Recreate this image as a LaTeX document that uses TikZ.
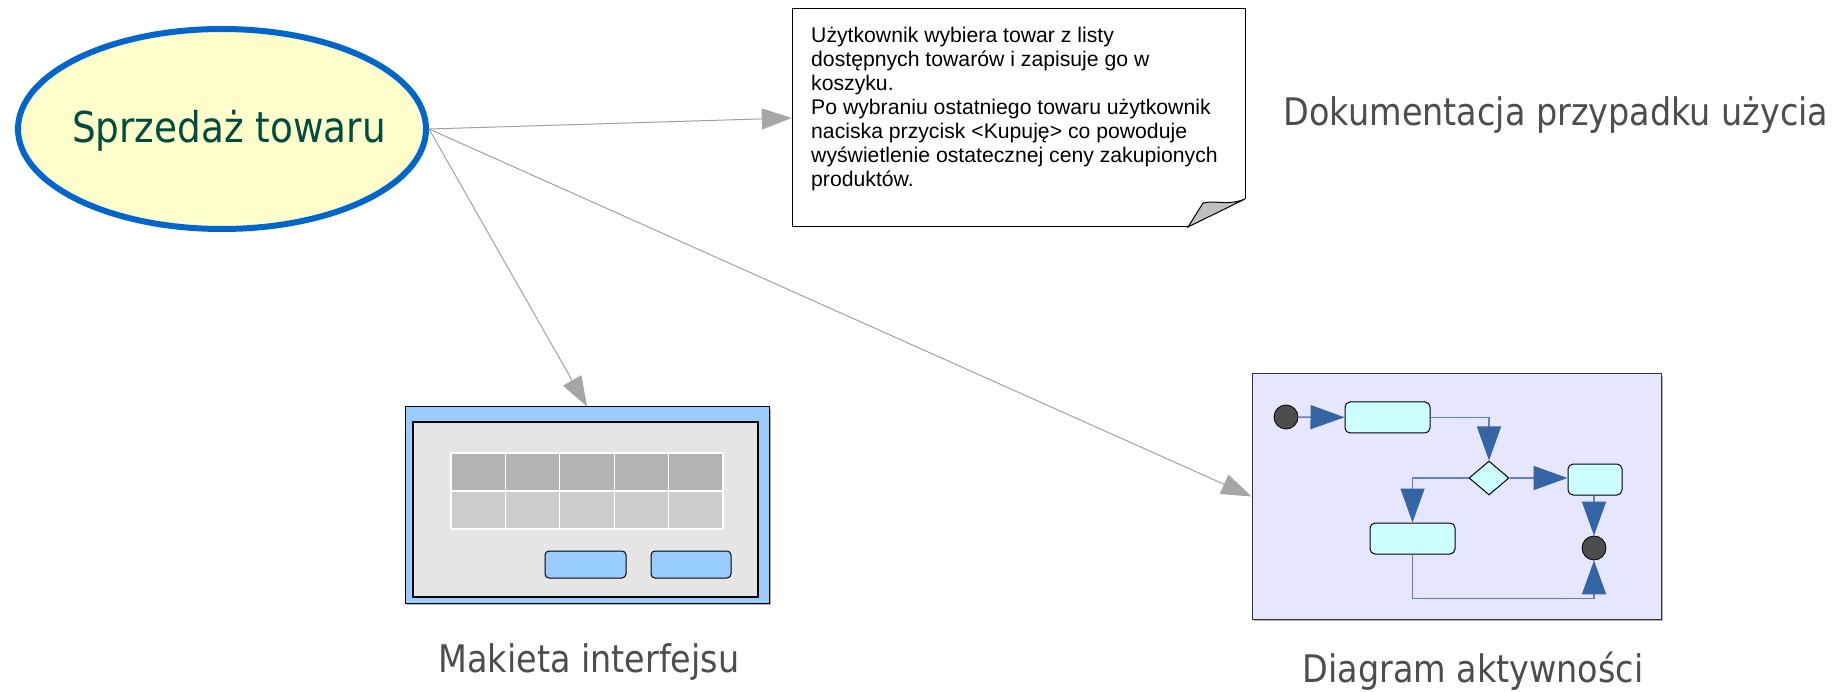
\documentclass[tikz,border=0pt]{standalone}
\usepackage{fontspec}
\setmainfont{Liberation Sans}
\newfontfamily\labelfont[FakeStretch=0.88]{DejaVu Sans}
\usetikzlibrary{shapes.geometric,arrows.meta,shadows}

\definecolor{ucfill}{RGB}{255,255,204}
\definecolor{ucline}{RGB}{0,102,204}
\definecolor{uctext}{RGB}{0,77,64}
\definecolor{labelgray}{RGB}{77,77,77}
\definecolor{linkgray}{RGB}{160,160,160}
\definecolor{tipgray}{RGB}{166,166,166}
\definecolor{winblue}{RGB}{153,204,255}
\definecolor{panelgray}{RGB}{230,230,230}
\definecolor{headgray}{RGB}{179,179,179}
\definecolor{bodygray}{RGB}{204,204,204}
\definecolor{actback}{RGB}{230,230,255}
\definecolor{actfill}{RGB}{204,255,255}
\definecolor{actblue}{RGB}{52,101,164}
\definecolor{flowline}{RGB}{95,130,190}
\definecolor{dotgray}{RGB}{77,77,77}
\definecolor{foldgray}{RGB}{192,192,192}

\begin{document}
\begin{tikzpicture}[x=1pt,y=-1pt,
    usecase/.style={ellipse, draw=ucline, line width=6pt, fill=ucfill, inner sep=0pt,
      minimum width=408pt, minimum height=200pt},
    uctitle/.style={text=uctext, inner sep=0pt, font=\labelfont\fontsize{42.5}{50}\selectfont},
    caption/.style={text=labelgray, inner sep=0pt, font=\labelfont\fontsize{38}{44}\selectfont},
    notetext/.style={align=left, inner sep=0pt, font=\fontsize{21.2}{24}\selectfont},
    link/.style={draw=linkgray, line width=1pt, -{Triangle[length=30pt,width=21pt,color=tipgray]}},
    window/.style={draw=black, fill=winblue, line width=1pt, inner sep=0pt,
      drop shadow={shadow xshift=2pt, shadow yshift=-2pt, fill=black!50, opacity=.6}},
    panel/.style={draw=black, fill=panelgray, line width=1.5pt, inner sep=0pt},
    button/.style={draw=black, fill=winblue, rounded corners=4pt, line width=1pt, inner sep=0pt},
    frame/.style={draw=black!80, fill=actback, line width=1pt, inner sep=0pt,
      drop shadow={shadow xshift=2pt, shadow yshift=-2pt, fill=black!50, opacity=.6}},
    startstop/.style={circle, draw=black, fill=dotgray, minimum size=24pt, inner sep=0pt, line width=0.8pt},
    action/.style={draw=black, fill=actfill, rounded corners=5pt, line width=1pt, inner sep=0pt},
    choice/.style={diamond, draw=black, fill=actfill, minimum width=40pt, minimum height=34pt,
      inner sep=0pt, line width=1pt},
    flow/.style={draw=flowline, line width=1.5pt, -{Triangle[length=34pt,width=24pt,color=actblue]}}
  ]
  \useasboundingbox (0,0) rectangle (1845,692);

  % USE CASE
  \node[usecase] (uc) at (222,129) {};
  \node[uctitle] (uclabel) at (229,131) {Sprzedaż towaru};

  % NOTE
  \node[minimum width=453pt, minimum height=218pt, inner sep=0pt] (notebox) at (1018.5,118) {};
  \draw[line width=1pt, fill=white] (1188,227) -- (792,227) -- (792,9) -- (1245,9) -- (1245,199);
  \draw[line width=1pt, fill=foldgray] (1245,199) .. controls (1228,206) and (1216,200) .. (1203,203)
    -- (1188,227) -- cycle;
  \node[notetext, anchor=north west] (note) at (811,27) {Użytkownik wybiera towar z listy\\
    dostępnych towarów i zapisuje go w\\
    koszyku.\\
    Po wybraniu ostatniego towaru użytkownik\\
    naciska przycisk <Kupuję> co powoduje\\
    wyświetlenie ostatecznej ceny zakupionych\\
    produktów.};
  \node[caption] (doclabel) at (1556,115) {Dokumentacja przypadku użycia};

  % MOCKUP
  \node[window, minimum width=364pt, minimum height=196pt] (win) at (587,505) {};
  \node[panel, minimum width=345pt, minimum height=175pt] (panel) at (585.5,509.5) {};
  \fill[headgray] (451,453) rectangle (723,491);
  \fill[bodygray] (451,491) rectangle (723,529);
  \foreach \i in {0,...,5}
    \draw[white, line width=1.2pt] ({451+54.4*\i},453) -- ({451+54.4*\i},529);
  \foreach \y in {453,491,529}
    \draw[white, line width=1.2pt] (451,\y) -- (723,\y);
  \node[button, minimum width=81pt, minimum height=27pt] (okbtn) at (585.5,564.5) {};
  \node[button, minimum width=80pt, minimum height=27pt] (cancelbtn) at (691,564.5) {};
  \node[caption] (mocklabel) at (589,662) {Makieta interfejsu};

  % ACTIVITY
  \node[frame, minimum width=409pt, minimum height=245pt] (act) at (1456.5,496.5) {};
  \node[startstop] (start) at (1286,417) {};
  \node[action, minimum width=85pt, minimum height=31pt] (a1) at (1387.5,417.5) {};
  \node[choice] (dec) at (1489,478) {};
  \node[action, minimum width=54pt, minimum height=31pt] (a2) at (1595,479.5) {};
  \node[action, minimum width=85pt, minimum height=31pt] (a3) at (1412.5,538.5) {};
  \node[startstop] (stop) at (1594,548) {};
  \node[caption] (actlabel) at (1473,671) {Diagram aktywności};

  % ARROWS
  \draw[flow] (start) -- (a1);
  \draw[flow] (a1.east) -| (dec.north);
  \draw[flow] (dec.east) -- (a2.west |- dec.east);
  \draw[flow] (dec.west) -| (a3.north);
  \draw[flow] (a2.south -| stop) -- (stop.north);
  \draw[flow] (a3.south) -- ++(0,44) -| (stop.south);

  \draw[link] (uc.east) -- (notebox.west);
  \draw[link] (uc.east) -- (win.north);
  \draw[link] (uc.east) -- (act.west);
\end{tikzpicture}
\end{document}
